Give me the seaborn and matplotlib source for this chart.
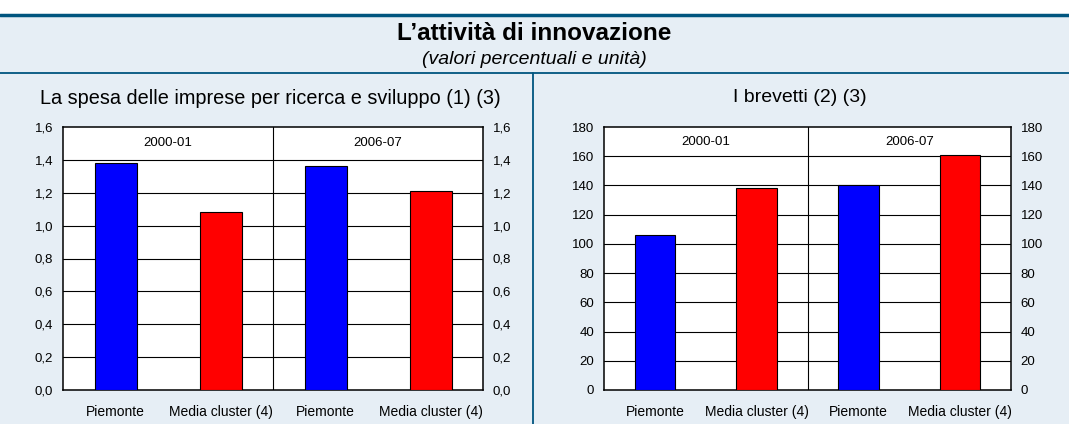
import pandas as pd
import matplotlib.pyplot as plt
import seaborn as sns
from matplotlib.patches import Rectangle
from matplotlib.lines import Line2D

# Data
periods = ['2000-01', '2006-07']
areas = ['Piemonte', 'Media cluster (4)']
spesa_rs = [1.38, 1.08, 1.36, 1.21]      # % of GDP
brevetti = [106, 138, 140, 161]         # units
area_colors = {'Piemonte': '#0000FF', 'Media cluster (4)': '#FF0000'}

slots = [p + ' ' + a for p in periods for a in areas]
slot_area = [a for p in periods for a in areas]

sns.set_style("white")
plt.rcParams['font.family'] = ['Liberation Sans', 'DejaVu Sans']
plt.rcParams['text.color'] = 'black'
plt.rcParams['xtick.color'] = 'black'
plt.rcParams['ytick.color'] = 'black'

W, H = 1069, 424
fig = plt.figure(figsize=(W / 100, H / 100), dpi=100)
bg = '#E6EEF5'
dark = '#00557F'
fig.patch.set_facecolor(bg)

# white strip at top and header lines
fig.patches.append(Rectangle((0, 1 - 14 / H), 1, 14 / H, transform=fig.transFigure,
                             facecolor='white', edgecolor='none', zorder=0))
fig.lines.append(Line2D([0, 1], [1 - 15 / H, 1 - 15 / H], transform=fig.transFigure,
                        color=dark, lw=2.5))
fig.lines.append(Line2D([0, 1], [1 - 73 / H, 1 - 73 / H], transform=fig.transFigure,
                        color=dark, lw=1.3))
fig.lines.append(Line2D([533 / W, 533 / W], [0, 1 - 73 / H], transform=fig.transFigure,
                        color=dark, lw=1.3))

fig.text(0.5, 1 - 33 / H, 'L\u2019attività di innovazione', ha='center', va='center',
         fontsize=17.5, fontweight='bold')
fig.text(0.5, 1 - 59 / H, '(valori percentuali e unità)', ha='center', va='center',
         fontsize=14, style='italic')
fig.text(270 / W, 1 - 98 / H, 'La spesa delle imprese per ricerca e sviluppo (1) (3)',
         ha='center', va='center', fontsize=14.3)
fig.text(800 / W, 1 - 98 / H, 'I brevetti (2) (3)', ha='center', va='center', fontsize=14)


def draw_panel(rect, values, ymax, step, fmt):
    ax = fig.add_axes(rect)
    df = pd.DataFrame({'slot': slots, 'value': values, 'area': slot_area})
    sns.barplot(data=df, x='slot', y='value', hue='area', order=slots,
                palette=area_colors, dodge=False, width=0.4, legend=False,
                saturation=1, edgecolor='black', linewidth=0.8, ax=ax, zorder=3)
    ax.set_facecolor('white')
    ax.set_ylim(0, ymax)
    ax.set_xlim(-0.5, 3.5)
    ticks = [i * step for i in range(int(round(ymax / step)) + 1)]
    ax.set_yticks(ticks)
    ax.set_yticklabels([fmt(t) for t in ticks])
    for t in ticks[1:-1]:
        ax.axhline(t, color='black', lw=0.8, zorder=1)
    ax.axvline(1.5, color='black', lw=0.8, zorder=1)
    for i, p in enumerate(periods):
        ax.text(0.5 + 2 * i, ymax - step / 2, p, ha='center', va='center', fontsize=9.5)
    ax.set_xticks(range(4))
    ax.set_xticklabels([a for p in periods for a in areas])
    ax.set_xlabel('')
    ax.set_ylabel('')
    ax.tick_params(axis='y', labelsize=9.5, left=True, right=True, labelright=True,
                   length=0, pad=7)
    ax.tick_params(axis='x', labelsize=10, length=0, pad=11)
    for s in ax.spines.values():
        s.set_color('black')
        s.set_linewidth(1.1)
        s.set_visible(True)
    return ax


top, bot = 127, 390
draw_panel([63 / W, 1 - bot / H, (483 - 63) / W, (bot - top) / H], spesa_rs, 1.6, 0.2,
           lambda v: f'{v:.1f}'.replace('.', ','))
draw_panel([604 / W, 1 - bot / H, (1011 - 604) / W, (bot - top) / H], brevetti, 180, 20,
           lambda v: f'{int(v)}')

fig.savefig('out.png', dpi=100, facecolor=fig.get_facecolor())
